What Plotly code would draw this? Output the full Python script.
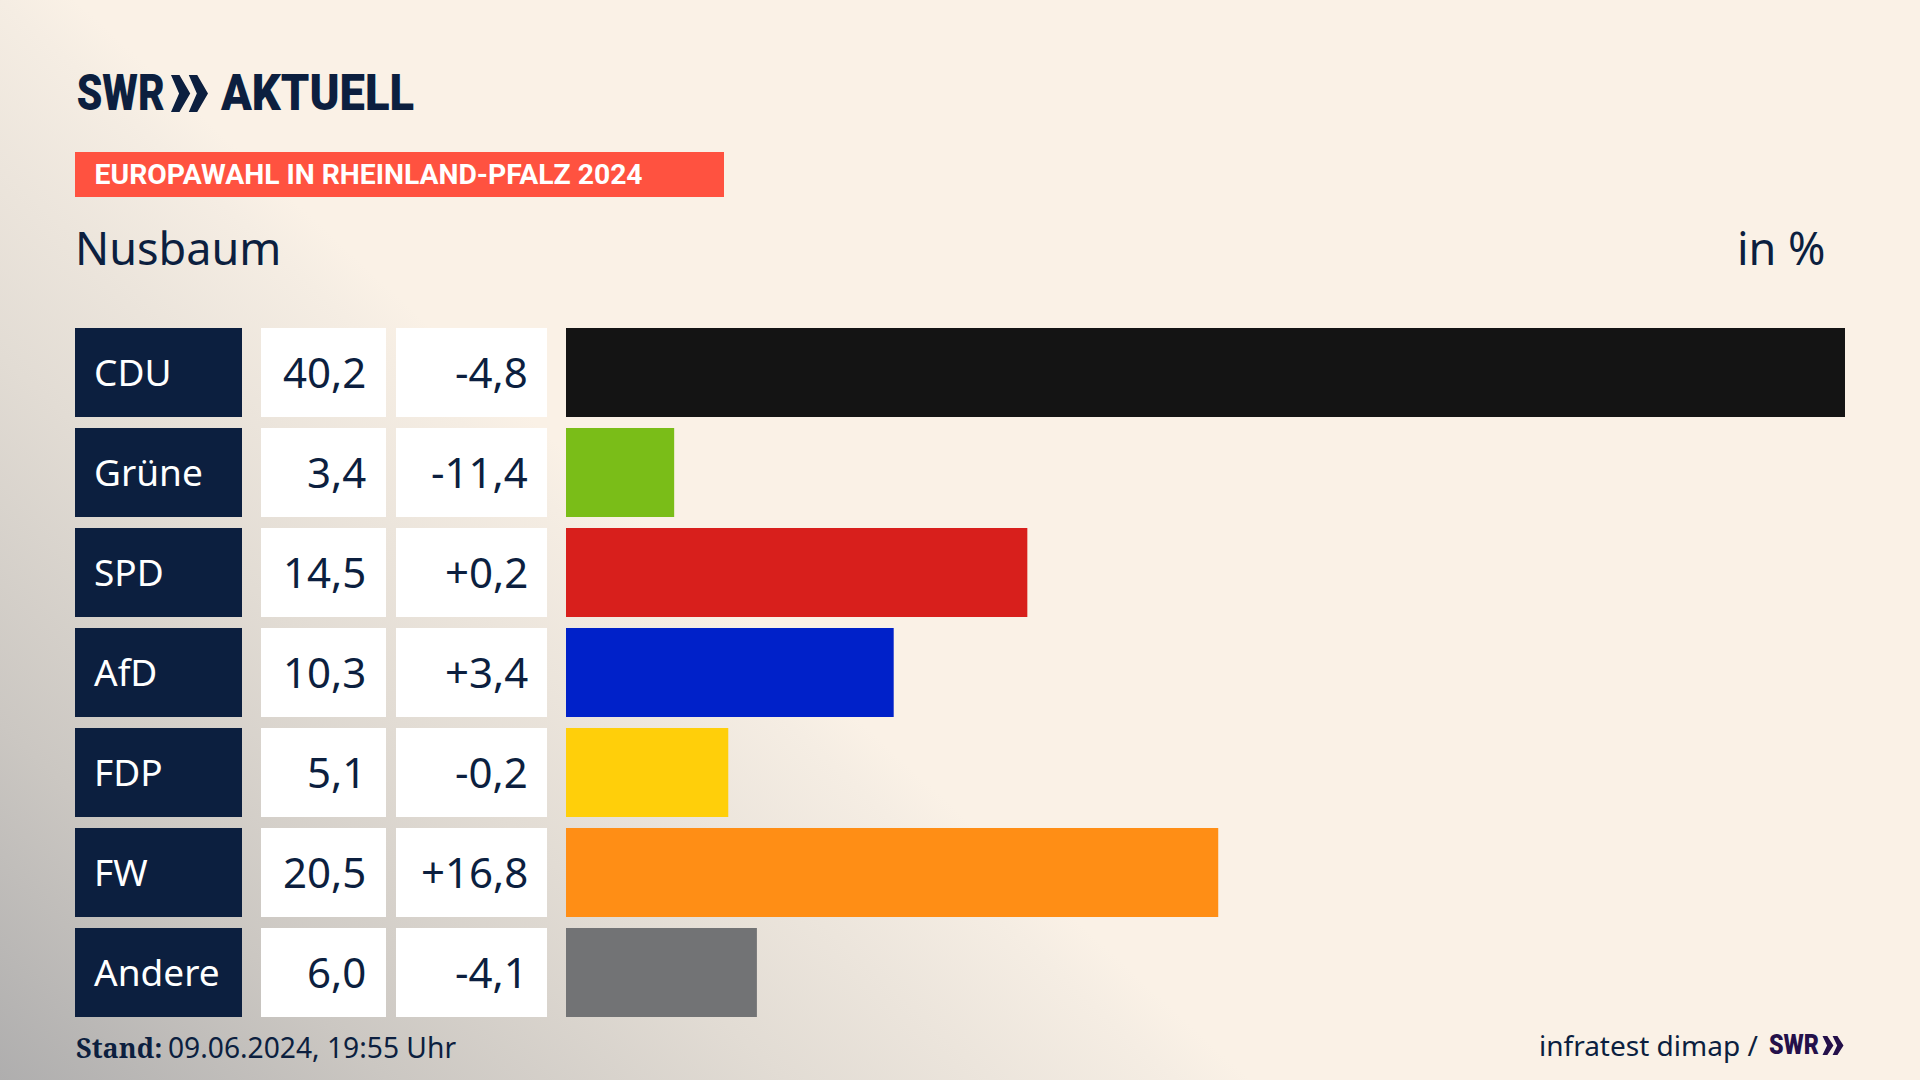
import base64
import json
import plotly.graph_objects as go

W, H = 1920, 1080

parties = ["CDU", "Grüne", "SPD", "AfD", "FDP", "FW", "Andere"]
shares = [40.2, 3.4, 14.5, 10.3, 5.1, 20.5, 6.0]
changes = [-4.8, -11.4, 0.2, 3.4, -0.2, 16.8, -4.1]
bar_colors = ["#141414", "#7ABD18", "#D81F1C", "#0021C9", "#FFCF0A", "#FF8E15", "#727375"]

NAVY = "#0C1F3F"
PURPLE = "#24104A"
BODY = "Noto Sans"
LOGO = "Roboto"


def de(v, signed=False):
    s = f"{v:+.1f}" if signed else f"{v:.1f}"
    return s.replace(".", ",")


def px(x):
    return x / W


def py(y):
    return 1 - y / H


svg = f"""<svg xmlns='http://www.w3.org/2000/svg' width='{W}' height='{H}' viewBox='0 0 {W} {H}'>
<defs>
<linearGradient id='g' gradientUnits='userSpaceOnUse' x1='0' y1='1080' x2='573' y2='457'>
<stop offset='0' stop-color='#afaeae'/>
<stop offset='0.31' stop-color='#cbc7c2'/>
<stop offset='0.63' stop-color='#e2dcd4'/>
<stop offset='0.94' stop-color='#f5ede3'/>
<stop offset='1' stop-color='#faf1e6'/>
</linearGradient>
</defs>
<rect width='{W}' height='{H}' fill='url(#g)'/>
</svg>"""
bg = "data:image/svg+xml;base64," + base64.b64encode(svg.encode()).decode()

fig = go.Figure()

COLS = [("x", 566, 1845, [0, max(shares)]),
        ("x2", 75, 242, [0, 1]),
        ("x3", 261, 386, [0, 1]),
        ("x4", 396, 547, [0, 1])]
full_cell = [1] * len(parties)

fig.add_trace(go.Bar(x=shares, y=parties, orientation="h", xaxis="x", yaxis="y",
                     marker=dict(color=bar_colors, line_width=0), hoverinfo="skip"))
for axis, color in (("x2", NAVY), ("x3", "#FFFFFF"), ("x4", "#FFFFFF")):
    fig.add_trace(go.Bar(x=full_cell, y=parties, orientation="h", xaxis=axis, yaxis="y",
                         marker=dict(color=color, line_width=0), hoverinfo="skip"))

ann = []


def text(s, x, y, size, color=NAVY, font=BODY, anchor="left", yref="paper", weight=None, yshift=0):
    f = dict(family=font, size=size, color=color)
    if weight:
        f["weight"] = weight
    ann.append(dict(text=s, x=px(x), y=py(y) if yref == "paper" else y, xref="paper", yref=yref,
                    xanchor=anchor, yanchor="middle", showarrow=False, yshift=yshift, font=f))


for p, s, c in zip(parties, shares, changes):
    text(p, 91.6, p, 37, color="#FFFFFF", yref="y", yshift=1.5)
    text(de(s), 368, p, 42, anchor="right", yref="y", yshift=1.5)
    text(de(c, True), 530, p, 42, anchor="right", yref="y", yshift=1.5)

text("SWR", 120.5, 93, 50, font=LOGO, anchor="center", weight=900)
text("AKTUELL", 316.5, 93, 50, font=LOGO, anchor="center", weight=900)
text("EUROPAWAHL IN RHEINLAND-PFALZ 2024", 368, 175, 27, color="#FFFFFF", font=LOGO, anchor="center", weight=700)
text("Nusbaum", 72.5, 247, 45)
text("in %", 1828, 247, 45, anchor="right")
text("Stand:", 74, 1047, 27, font="Noto Serif, DejaVu Serif Condensed, " + BODY, weight=700)
text("09.06.2024, 19:55 Uhr", 165.5, 1047, 28.2)
text("infratest dimap /", 1536.5, 1045, 28, anchor="left")
text("SWR", 1794, 1045, 27, color=PURPLE, font=LOGO, anchor="center", weight=900)

# Squeeze the condensed logo and banner lettering to its measured width.
squeezed = [["SWR", 50, 88], ["AKTUELL", 50, 193], ["EUROPAWAHL IN RHEINLAND-PFALZ 2024", 27, 548], ["SWR", 27, 50]]
post = """
document.body.style.margin='0';
(function(){
  var rules = %s;
  function apply(){
    document.querySelectorAll('text.annotation-text').forEach(function(t){
      rules.forEach(function(r){
        if (t.textContent === r[0] && Math.abs(parseFloat(t.style.fontSize) - r[1]) < 0.5) {
          t.setAttribute('textLength', r[2]);
          t.setAttribute('lengthAdjust', 'spacingAndGlyphs');
        }
      });
    });
  }
  apply();
  setTimeout(apply, 100);
})();
""" % json.dumps(squeezed)


def chevrons(x0, y0, w, h, color):
    d = w * 0.52
    t = d * 0.44
    notch = d * 0.42
    path = ""
    for i in range(2):
        ox = x0 + i * (w - d)
        pts = [(ox, y0), (ox + t, y0), (ox + d, y0 + h / 2), (ox + t, y0 + h), (ox, y0 + h), (ox + notch, y0 + h / 2)]
        path += "M " + " L ".join(f"{px(a):.5f},{py(b):.5f}" for a, b in pts) + " Z "
    return dict(type="path", xref="paper", yref="paper", path=path, fillcolor=color, line_width=0)


shapes = [
    dict(type="rect", xref="paper", yref="paper", x0=px(75), x1=px(724), y0=py(197), y1=py(152),
         fillcolor="#FF5240", line_width=0, layer="below"),
    chevrons(171, 75, 37, 37, NAVY),
    chevrons(1822.5, 1036, 21, 19, PURPLE),
]

layout_axes = {}
for axis, a, b, rng in COLS:
    name = "xaxis" if axis == "x" else "xaxis" + axis[1:]
    layout_axes[name] = dict(domain=[px(a), px(b)], range=rng, visible=False, fixedrange=True, anchor="y")

fig.update_layout(
    width=W, height=H, margin=dict(l=0, r=0, t=0, b=0), autosize=False,
    paper_bgcolor="#FAF1E6", plot_bgcolor="rgba(0,0,0,0)", showlegend=False,
    bargap=0.11,
    yaxis=dict(domain=[py(1022.5), py(322.5)], type="category", categoryorder="array",
               categoryarray=parties, autorange="reversed", visible=False, fixedrange=True),
    images=[dict(source=bg, xref="paper", yref="paper", x=0, y=1, sizex=1, sizey=1,
                 xanchor="left", yanchor="top", sizing="stretch", layer="below")],
    annotations=ann, shapes=shapes, **layout_axes,
)

fig.write_html("out.html", config=dict(displayModeBar=False), post_script=post)
